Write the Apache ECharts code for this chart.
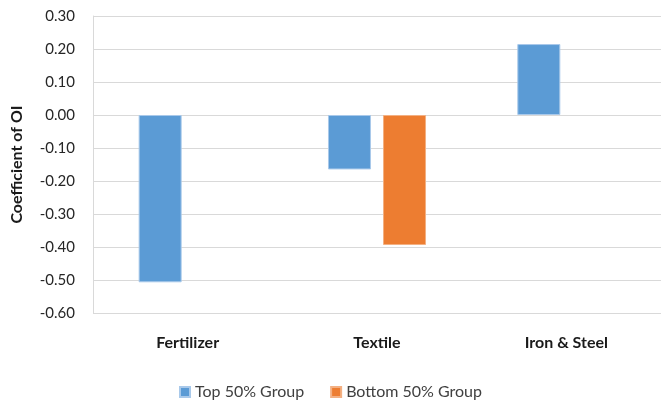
<!DOCTYPE html>
<html>
<head>
<meta charset="utf-8">
<script src="https://cdn.jsdelivr.net/npm/echarts@6/dist/echarts.min.js"></script>
<style>
  html, body { margin: 0; padding: 0; background: #fff; }
  #chart { width: 661px; height: 401px; }
</style>
</head>
<body>
<div id="chart"></div>
<script>
const categories = ['Fertilizer', 'Textile', 'Iron & Steel']
const topGroup = [-0.507, -0.165, 0.215]
const bottomGroup = [null, -0.394, null]
const seriesNames = ['Top 50% Group', 'Bottom 50% Group']

const chart = echarts.init(document.getElementById('chart'))
const font = 'Lato, "Open Sans", sans-serif'

chart.setOption({
  animation: false,
  textStyle: { fontFamily: font },
  grid: { left: 93, top: 16, width: 570, height: 297 },
  legend: {
    data: seriesNames,
    bottom: -4,
    left: 'center',
    icon: 'rect',
    itemWidth: 10,
    itemHeight: 10,
    itemGap: 26,
    textStyle: { fontSize: 16, color: '#404040', fontFamily: font }
  },
  xAxis: {
    type: 'category',
    data: categories,
    axisLine: { show: false },
    axisTick: { show: false },
    axisLabel: { fontSize: 16, fontWeight: 'bold', color: '#1a1a1a', margin: 22, fontFamily: font }
  },
  yAxis: {
    type: 'value',
    min: -0.6,
    max: 0.3,
    interval: 0.1,
    name: 'Coefficient of OI',
    nameLocation: 'middle',
    nameGap: 68,
    nameTextStyle: { fontSize: 16, fontWeight: 'bold', color: '#1a1a1a', fontFamily: font },
    axisLine: { show: true, lineStyle: { color: '#d9d9d9' } },
    axisTick: { show: false },
    axisLabel: {
      fontSize: 15, color: '#262626', margin: 18, fontFamily: font,
      formatter: v => v.toFixed(2)
    },
    splitLine: { lineStyle: { color: '#d9d9d9', width: 1 } }
  },
  series: [
    {
      name: seriesNames[0],
      type: 'bar',
      data: topGroup,
      barWidth: 43,
      barGap: '28%',
      itemStyle: { color: '#5b9bd5', borderColor: '#a9c9ea', borderWidth: 1 }
    },
    {
      name: seriesNames[1],
      type: 'bar',
      data: bottomGroup,
      barWidth: 43,
      itemStyle: { color: '#ed7d31', borderColor: '#f3b083', borderWidth: 1 }
    }
  ]
})
</script>
</body>
</html>
